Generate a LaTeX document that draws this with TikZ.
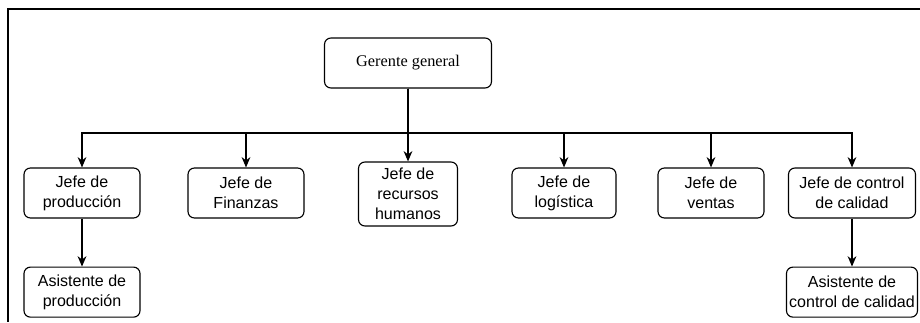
\documentclass[tikz,border=0pt]{standalone}
\usepackage{fontspec}
\setmainfont{Liberation Serif}
\setsansfont{Liberation Sans}
\usetikzlibrary{positioning, arrows.meta}
\tikzset{
  >={Stealth[length=2.6mm, width=2.2mm]}, % bold arrow heads
  node distance=1.2cm, % gap between a boss and his assistant
  puesto/.style={draw, thick, rounded corners=1.6mm, align=center, fill=white,
    inner sep=1pt, minimum height=1.25cm,
    font=\sffamily\fontsize{11.4}{14.2}\selectfont}, % every box of the chart
  enlace/.style={->, thick}, % every connector
}
\begin{document}
\begin{tikzpicture}
    % page size and frame
    \useasboundingbox (0,0) rectangle (23,-8.05);
    \draw[line width=1.4pt] (23,-0.215) -| (0.2,-8.05);

    % top
    \node[puesto, minimum width=4.175cm, font=\rmfamily\fontsize{11.6}{14}\selectfont] (ger) at (10.2,-1.575) {Gerente general};

    % jefes
    \node[puesto, minimum width=2.9cm] (prod) at (2.05,-4.825) {Jefe de\\producción};
    \node[puesto, minimum width=2.9cm] (fin) at (6.15,-4.825) {Jefe de\\Finanzas};
    \node[puesto, minimum width=2.475cm, minimum height=1.6cm] (rrhh) at (10.2,-4.85) {Jefe de\\recursos\\humanos};
    \node[puesto, minimum width=2.6cm] (log) at (14.1,-4.825) {Jefe de\\logística};
    \node[puesto, minimum width=2.65cm] (ven) at (17.775,-4.825) {Jefe de\\ventas};
    \node[puesto, minimum width=3.175cm] (cal) at (21.3,-4.825) {Jefe de control\\de calidad};

    % asistentes
    \node[puesto, minimum width=2.9cm, below=of prod] (asprod) {Asistente de\\producción};
    \node[puesto, minimum width=3.275cm, below=of cal] (ascal) {Asistente de\\control de calidad};

    \coordinate (bus) at (0,-3.325);

    \draw[enlace] (ger.south) -- (rrhh.north);
    \foreach \n in {prod, fin, log, ven, cal}
      \draw[enlace] (ger.south) |- (\n.north |- bus) -- (\n.north);
    \draw[enlace] (prod) -- (asprod);
    \draw[enlace] (cal) -- (ascal);

\end{tikzpicture}
\end{document}
